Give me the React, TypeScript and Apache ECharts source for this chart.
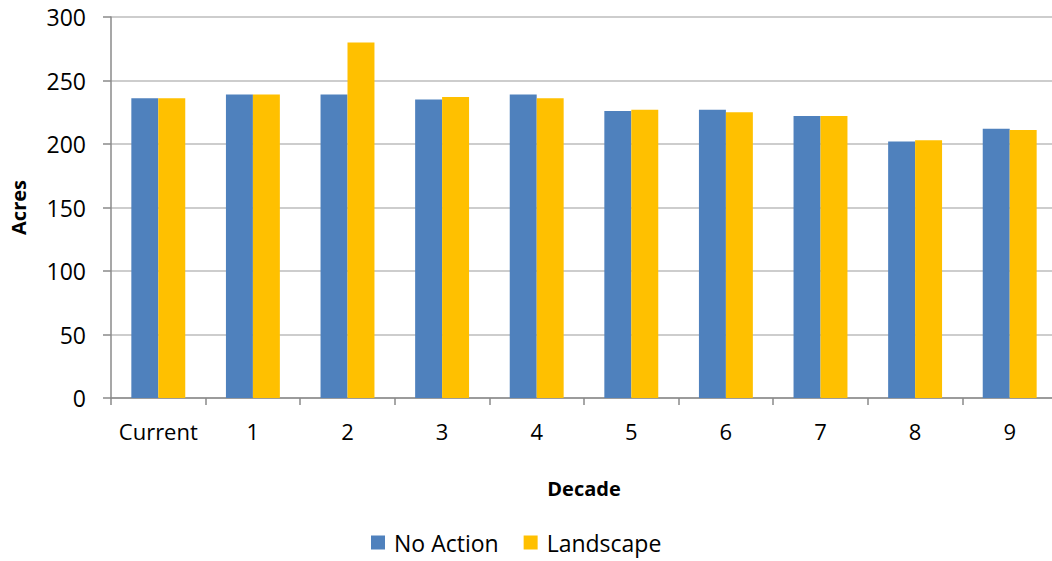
import React, { useEffect, useRef } from "react";
import * as echarts from "echarts";

const categories = ["Current", "1", "2", "3", "4", "5", "6", "7", "8", "9"];
const noAction = [236, 239, 239, 235, 239, 226, 227, 222, 202, 212];
const landscape = [236, 239, 280, 237, 236, 227, 225, 222, 203, 211];

const FONT = "'Open Sans', 'Noto Sans', sans-serif";

export default function App() {
  const ref = useRef<HTMLDivElement>(null);
  useEffect(() => {
    if (!ref.current) return;
    const chart = echarts.init(ref.current, undefined, { renderer: "svg" });
    chart.setOption({
      animation: false,
      backgroundColor: "#ffffff",
      grid: { left: 111, top: 17, width: 946, height: 381, containLabel: false, outerBoundsMode: "none" },
      legend: {
        bottom: 2,
        left: 366,
        icon: "rect",
        itemWidth: 14,
        itemHeight: 14,
        itemGap: 25,
        textStyle: { fontFamily: FONT, fontSize: 23, color: "#000", padding: [0, 0, 0, 4] },
        data: ["No Action", "Landscape"],
      },
      xAxis: {
        type: "category",
        data: categories,
        name: "Decade",
        nameLocation: "middle",
        nameGap: 80,
        nameTextStyle: { fontFamily: FONT, fontSize: 20, fontWeight: "bold", color: "#000" },
        axisLine: { lineStyle: { color: "#8a8a8a", width: 1.5 } },
        axisTick: { show: true, length: 7, interval: 0, alignWithLabel: false, lineStyle: { color: "#8a8a8a", width: 1.5 } },
        axisLabel: { fontFamily: FONT, fontSize: 22, color: "#000", margin: 22, interval: 0 },
      },
      yAxis: {
        type: "value",
        min: 0,
        max: 300,
        interval: 50,
        name: "Acres",
        nameLocation: "middle",
        nameGap: 83,
        nameTextStyle: { fontFamily: FONT, fontSize: 20, fontWeight: "bold", color: "#000" },
        axisLine: { show: true, lineStyle: { color: "#8a8a8a", width: 1.5 } },
        axisTick: { show: true, length: 8, lineStyle: { color: "#8a8a8a", width: 1.5 } },
        axisLabel: { fontFamily: FONT, fontSize: 23, color: "#000", margin: 25 },
        splitLine: { lineStyle: { color: "#bdbdbd", width: 1.5 } },
      },
      series: [
        {
          name: "No Action",
          type: "bar",
          data: noAction,
          barGap: "0%",
          barCategoryGap: "43%",
          itemStyle: { color: "#4f81bd" },
        },
        {
          name: "Landscape",
          type: "bar",
          data: landscape,
          barGap: "0%",
          barCategoryGap: "43%",
          itemStyle: { color: "#ffc000" },
        },
      ],
    });
    return () => chart.dispose();
  }, []);
  return (
    <div
      ref={ref}
      style={{ position: "fixed", left: 0, top: 0, width: 1052, height: 561, background: "#fff" }}
    />
  );
}
